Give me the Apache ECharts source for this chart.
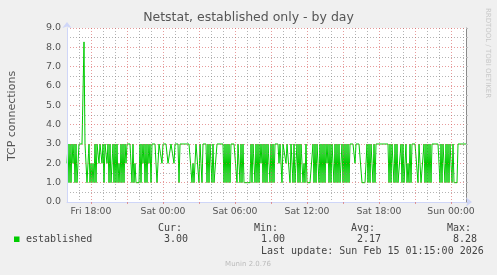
<!DOCTYPE html>
<html>
<head>
<meta charset="utf-8">
<script src="https://cdn.jsdelivr.net/npm/echarts@6/dist/echarts.min.js"></script>
<style>
html,body{margin:0;padding:0;background:#f0f0f0;}
#c{width:497px;height:275px;}
</style>
</head>
<body>
<div id="c"></div>
<script>
// ---- data (5-minute samples from Fri 16:00 to Sun 01:15) ----
const established = [
  2,3,1,3,1,3,2,3,1,3,1,2,3,3,3,3,3,8.28,3,3,
  1,1,3,1,2,1,2,1,3,1,3,3,2,3,3,2,3,1,3,3,
  2,3,1,3,1,2,3,1,3,1,3,1,2,1,3,1,3,1,3,2,
  3,3,3,3,3,1,3,1,2,1,1,1,1,3,1,3,2,3,1,3,
  1,3,2,3,1,3,3,3,3,3,1,2,3,3,3,2,3,3,3,3,
  3,2,2,2,3,3,3,2,3,3,3,3,1,3,3,3,3,3,3,3,
  3,3,3,3,3,1,2,1,1,3,3,3,1,3,2,1,3,3,3,3,
  1,3,1,3,2,1,3,1,1,1,3,3,3,3,3,3,3,1,3,1,
  3,1,3,1,3,3,3,3,3,3,1,3,2,1,3,1,3,1,1,1,
  1,1,1,1,3,1,3,2,1,3,1,3,1,3,2,3,1,3,1,3,
  1,3,2,1,3,1,3,1,3,3,3,3,2,3,3,1,3,3,3,2,
  3,3,3,1,3,3,1,3,1,2,3,1,3,1,3,3,1,2,1,3,
  1,1,1,1,1,1,3,1,3,1,3,2,1,3,1,3,1,3,1,3,
  2,3,1,3,1,3,2,1,3,1,3,1,3,1,2,3,1,3,1,3,
  1,3,1,3,3,3,3,3,2,3,3,3,3,3,3,1,1,1,1,1,
  3,1,3,1,3,2,1,3,1,3,3,3,3,3,3,3,3,3,3,3,
  3,3,1,3,1,3,2,1,3,1,3,1,1,1,3,1,3,1,1,3,
  1,2,1,3,1,3,3,3,3,3,3,1,3,2,1,1,1,3,1,3,
  1,3,1,3,1,3,3,3,3,3,3,3,3,1,3,1,3,2,1,3,
  1,3,1,3,2,1,3,1,1,1,1,3,3,3,3,3,3,3,3,3
];
const dayNames = ['Fri', 'Sat', 'Sun'];
const startMinute = 16 * 60;      // Fri 16:00
const stepMinutes = 5;
const tickLabels = ['Fri 18:00', 'Sat 00:00', 'Sat 06:00', 'Sat 12:00', 'Sat 18:00', 'Sun 00:00'];
const legendHeads = ['Cur:', 'Min:', 'Avg:', 'Max:'];
const legendValues = ['3.00', '1.00', '2.17', '8.28'];
const seriesName = 'established';
const titleText = 'Netstat, established only - by day';
const yTitle = 'TCP connections';
const lastUpdate = 'Last update: Sun Feb 15 01:15:00 2026';
const footer = 'Munin 2.0.76';
const watermark = 'RRDTOOL / TOBI OETIKER';

// category labels
const pad = n => (n < 10 ? '0' : '') + n;
const minuteOf = i => startMinute + i * stepMinutes;
const categories = established.map((_, i) => {
  const t = minuteOf(i);
  return dayNames[Math.floor(t / 1440)] + ' ' + pad(Math.floor((t % 1440) / 60)) + ':' + pad(t % 60);
});

const GREEN = '#00cc00';
const AXIS = '#cfd6f8';
const MAJOR = 'rgba(215,90,90,0.6)';
const MINOR = 'rgba(130,130,130,0.6)';
const FONT = 'DejaVu Sans';
const MONO = 'DejaVu Sans Mono';

const grid = { left: 67, top: 28, width: 399, height: 174, show: true, backgroundColor: '#ffffff', borderWidth: 0 };

const chart = echarts.init(document.getElementById('c'), null, { renderer: 'canvas' });

const legendX = [158, 254, 351, 447];
const valueX = [164, 261, 357, 453];
const graphics = [
  { type: 'text', left: 'center', top: 11, style: { text: titleText, font: '12.5px "' + FONT + '"', fill: '#555' } },
  { type: 'text', x: 12, y: 116, rotation: Math.PI / 2, style: { text: yTitle, font: '11px "' + FONT + '"', fill: '#555', align: 'center', verticalAlign: 'middle' } },
  { type: 'text', x: 488, y: 53, rotation: -Math.PI / 2, style: { text: watermark, font: '7px "' + FONT + '"', fill: '#c8c8c8', align: 'center', verticalAlign: 'middle' } },
  { type: 'rect', shape: { x: 14, y: 236.5, width: 5.5, height: 5.5 }, style: { fill: GREEN } },
  { type: 'text', x: 26, y: 239.5, style: { text: seriesName, font: '10px "' + MONO + '"', fill: '#444', verticalAlign: 'middle' } },
  { type: 'text', x: 261, y: 251.5, style: { text: lastUpdate, font: '10px "' + MONO + '"', fill: '#444', verticalAlign: 'middle' } },
  { type: 'text', x: 248, y: 264.5, style: { text: footer, font: '7px "' + FONT + '"', fill: '#bbbbbb', align: 'center', verticalAlign: 'middle' } }
];
legendHeads.forEach((h, k) => {
  graphics.push({ type: 'text', x: legendX[k], y: 228.5, style: { text: h, font: '10px "' + MONO + '"', fill: '#444', verticalAlign: 'middle' } });
  graphics.push({ type: 'text', x: valueX[k], y: 239.5, style: { text: legendValues[k], font: '10px "' + MONO + '"', fill: '#444', verticalAlign: 'middle' } });
});

chart.setOption({
  animation: false,
  backgroundColor: '#f0f0f0',
  grid: grid,
  xAxis: [
    {
      type: 'category', data: categories, boundaryGap: false, position: 'bottom',
      axisLine: { show: true, lineStyle: { color: AXIS, width: 1 }, symbol: ['none', 'arrow'], symbolSize: [7, 6], symbolOffset: [0, 6] },
      axisTick: { show: true, length: 2, lineStyle: { color: MAJOR }, interval: (i) => minuteOf(i) % 180 === 0 },
      axisLabel: {
        show: true, margin: 5, color: '#555', fontFamily: FONT, fontSize: 9.3,
        interval: (i, v) => tickLabels.indexOf(v) >= 0
      },
      splitLine: { show: true, interval: (i) => minuteOf(i) % 180 === 0, lineStyle: { color: MAJOR, type: [1, 2], width: 1 } },
      z: 3
    },
    {
      type: 'category', data: categories, boundaryGap: false, position: 'bottom',
      axisLine: { show: false }, axisTick: { show: false }, axisLabel: { show: false },
      splitLine: { show: true, interval: (i) => minuteOf(i) % 60 === 0 && minuteOf(i) % 180 !== 0, lineStyle: { color: MINOR, type: [1, 2], width: 1 } }
    }
  ],
  yAxis: [
    {
      type: 'value', min: 0, max: 9, interval: 1, position: 'left',
      axisLine: { show: true, lineStyle: { color: AXIS, width: 1 }, symbol: ['none', 'arrow'], symbolSize: [7, 6], symbolOffset: [0, 6] },
      axisTick: { show: false },
      axisLabel: { margin: 6, color: '#555', fontFamily: FONT, fontSize: 9.5, formatter: v => v.toFixed(1) },
      splitLine: { show: true, lineStyle: { color: MAJOR, type: [1, 2], width: 1 } },
      minorTick: { show: false, splitNumber: 2 },
      minorSplitLine: { show: true, lineStyle: { color: MINOR, type: [1, 2], width: 1 } },
      z: 3
    },
    {
      type: 'value', min: 0, max: 9, interval: 0.5, position: 'right',
      axisLine: { show: true, lineStyle: { color: '#8a8a8a', width: 1 } },
      axisTick: { show: true, length: 2, lineStyle: { color: '#bbbbbb' } },
      axisLabel: { show: false },
      splitLine: { show: false }
    }
  ],
  series: [
    {
      name: seriesName, type: 'line', data: established, xAxisIndex: 0, yAxisIndex: 0,
      showSymbol: false, symbol: 'none', sampling: null,
      lineStyle: { color: GREEN, width: 1 }, itemStyle: { color: GREEN }, z: 2
    }
  ],
  graphic: graphics
});
</script>
</body>
</html>
